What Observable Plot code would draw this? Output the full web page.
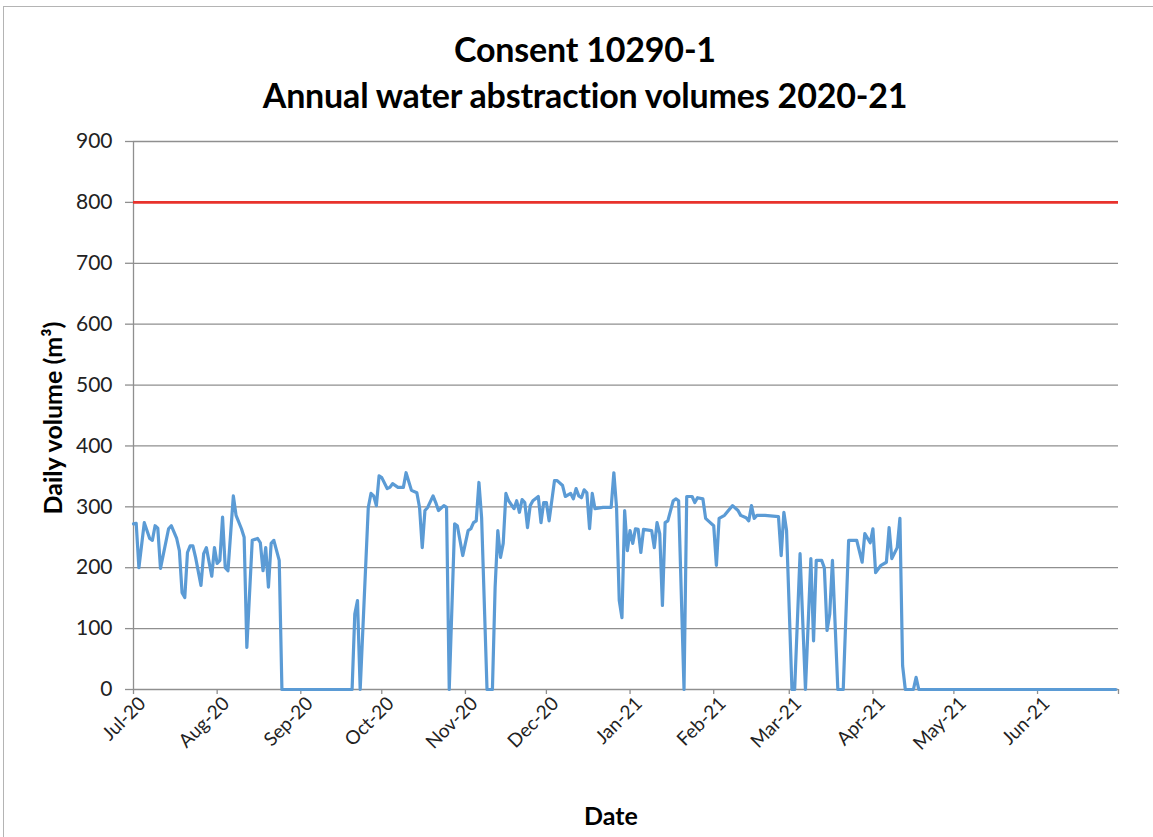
<!DOCTYPE html>
<html><head><meta charset="utf-8">
<script src="https://cdn.jsdelivr.net/npm/d3@7"></script>
<script src="https://cdn.jsdelivr.net/npm/@observablehq/plot@0.6"></script>
<style>
body{margin:0;background:#fff;}
#wrap{position:relative;width:1153px;height:837px;overflow:hidden;font-family:Lato,"Open Sans",sans-serif;background:#fff;}
#frame{position:absolute;left:3px;top:6px;width:1200px;height:900px;border-left:1.5px solid #b4b4b4;border-top:1.5px solid #b4b4b4;}
.t{position:absolute;left:0;width:1170px;text-align:center;font-weight:bold;font-size:34px;line-height:38px;color:#000;letter-spacing:-0.2px;}
#ylab{position:absolute;left:52px;top:418px;transform:translate(-50%,-50%) rotate(-90deg);font-weight:bold;font-size:25px;white-space:nowrap;color:#000;}
#xlab{position:absolute;left:611px;top:815px;transform:translate(-50%,-50%);font-weight:bold;font-size:25px;color:#000;}
#chart{position:absolute;left:0;top:0;}
</style></head>
<body>
<div id="wrap">
<div id="frame"></div>
<div id="chart"></div>
<div class="t" style="top:30px">Consent 10290-1</div>
<div class="t" style="top:76px">Annual water abstraction volumes 2020-21</div>
<div id="ylab">Daily volume (m³)</div>
<div id="xlab">Date</div>
</div>
<script>
const dates = [
"2020-07-01","2020-07-02","2020-07-03","2020-07-05","2020-07-07","2020-07-08","2020-07-09","2020-07-10","2020-07-11","2020-07-14",
"2020-07-15","2020-07-17","2020-07-18","2020-07-19","2020-07-20","2020-07-21","2020-07-22","2020-07-23","2020-07-24","2020-07-26",
"2020-07-27","2020-07-28","2020-07-30","2020-07-31","2020-08-01","2020-08-02","2020-08-03","2020-08-04","2020-08-05","2020-08-07",
"2020-08-08","2020-08-10","2020-08-11","2020-08-12","2020-08-14","2020-08-16","2020-08-17","2020-08-18","2020-08-19","2020-08-20",
"2020-08-21","2020-08-22","2020-08-24","2020-08-25",
"2020-09-20","2020-09-21","2020-09-22","2020-09-23","2020-09-26","2020-09-27","2020-09-28","2020-09-29","2020-09-30",
"2020-10-01","2020-10-03","2020-10-04","2020-10-05","2020-10-07","2020-10-09","2020-10-10","2020-10-12","2020-10-14","2020-10-15",
"2020-10-16","2020-10-17","2020-10-18","2020-10-20","2020-10-21","2020-10-22","2020-10-24","2020-10-25","2020-10-26","2020-10-28",
"2020-10-29","2020-10-31","2020-11-02","2020-11-03","2020-11-04","2020-11-05","2020-11-06","2020-11-07","2020-11-09","2020-11-11",
"2020-11-12","2020-11-13","2020-11-14","2020-11-15","2020-11-16","2020-11-17","2020-11-19","2020-11-20","2020-11-21","2020-11-22",
"2020-11-23","2020-11-24","2020-11-25","2020-11-26","2020-11-28","2020-11-29","2020-11-30","2020-12-01","2020-12-02","2020-12-04",
"2020-12-05","2020-12-07","2020-12-08","2020-12-10","2020-12-11","2020-12-12","2020-12-13","2020-12-14","2020-12-15","2020-12-16",
"2020-12-17","2020-12-18","2020-12-19","2020-12-22","2020-12-25","2020-12-26","2020-12-27","2020-12-28","2020-12-29","2020-12-30",
"2020-12-31","2021-01-01","2021-01-02","2021-01-03","2021-01-04","2021-01-05","2021-01-06","2021-01-09","2021-01-10","2021-01-11",
"2021-01-12","2021-01-13","2021-01-14","2021-01-15","2021-01-17","2021-01-18","2021-01-19","2021-01-21","2021-01-22","2021-01-24",
"2021-01-25","2021-01-26","2021-01-28","2021-01-29","2021-01-30","2021-02-01","2021-02-02","2021-02-03","2021-02-05","2021-02-07",
"2021-02-08","2021-02-10","2021-02-11","2021-02-13","2021-02-14","2021-02-15","2021-02-16","2021-02-17","2021-02-20","2021-02-25",
"2021-02-26","2021-02-27","2021-02-28","2021-03-02","2021-03-03","2021-03-05","2021-03-07","2021-03-09","2021-03-10","2021-03-11",
"2021-03-13","2021-03-14","2021-03-15","2021-03-16","2021-03-17","2021-03-19","2021-03-21","2021-03-23","2021-03-26","2021-03-28",
"2021-03-29","2021-03-31","2021-04-01","2021-04-02","2021-04-04","2021-04-06","2021-04-07","2021-04-08","2021-04-10","2021-04-11",
"2021-04-12","2021-04-13","2021-04-16","2021-04-17","2021-04-18","2021-06-30"
];
const volumes = [
272,273,200,274,248,245,269,265,199,264,
269,248,228,159,151,225,236,236,217,171,
223,233,186,233,207,212,283,200,195,318,
286,264,250,69,245,248,241,195,233,168,
240,245,212,0,
0,124,146,0,299,322,318,302,351,
348,330,332,338,332,332,356,327,323,299,
233,294,299,318,307,294,302,299,0,272,
269,220,261,264,274,277,340,282,0,0,
168,261,217,240,322,310,297,310,291,312,
307,266,302,310,317,274,307,307,277,343,
343,335,317,322,313,330,318,315,328,323,
264,322,297,299,299,356,299,146,118,294,
228,261,240,264,263,225,263,261,233,274,
256,138,274,277,310,313,310,0,317,317,
307,315,313,281,277,269,204,281,286,297,
302,294,286,282,277,302,281,286,286,284,
220,291,261,0,0,223,0,215,80,212,
212,200,97,124,212,0,0,245,245,209,
256,241,264,192,204,209,266,215,233,281,
39,0,0,20,0,0
];
const limit = [800];
const yTicks = [0,100,200,300,400,500,600,700,800,900];
const monthTicks = ["2020-07-01","2020-08-01","2020-09-01","2020-10-01","2020-11-01","2020-12-01",
"2021-01-01","2021-02-01","2021-03-01","2021-04-01","2021-05-01","2021-06-01","2021-07-01"];
const monthLabels = ["Jul-20","Aug-20","Sep-20","Oct-20","Nov-20","Dec-20","Jan-21","Feb-21","Mar-21","Apr-21","May-21","Jun-21",""];

const data = dates.map((d,i)=>({date:new Date(d), v:volumes[i]}));
const tickDates = monthTicks.map(d=>new Date(d));
const labelOf = new Map(tickDates.map((d,i)=>[+d, monthLabels[i]]));
const x0 = new Date("2020-07-01"), x1 = new Date("2021-07-01");
const grid = "#8f8f8f";

const chart = Plot.plot({
  width:1153, height:837,
  marginTop:141, marginBottom:148, marginLeft:133, marginRight:35,
  style:{fontFamily:"Lato, 'Open Sans', sans-serif", fontSize:"19px", color:"#222", background:"transparent"},
  x:{type:"utc", domain:[x0,x1]},
  y:{domain:[0,900]},
  marks:[
    Plot.ruleY(yTicks.filter(d=>d>0), {stroke:grid, strokeWidth:1.3}),
    Plot.axisY({ticks:yTicks, tickSize:8, tickPadding:13, stroke:grid, strokeWidth:1.3, fill:"#222", label:null, tickFormat:d=>String(d)}),
    Plot.axisX({ticks:tickDates, tickSize:5, stroke:grid, strokeWidth:1.3, tickFormat:()=>"", label:null}),
    Plot.axisX({ticks:tickDates, tickSize:0, tickFormat:d=>labelOf.get(+d), tickRotate:-45, tickPadding:6, dx:9, dy:5, fill:"#222", label:null}),
    Plot.ruleY([0], {stroke:grid, strokeWidth:1.3}),
    Plot.ruleX([x0], {stroke:grid, strokeWidth:1.3}),
    Plot.ruleY(limit, {stroke:"#e8322c", strokeWidth:2.6}),
    Plot.line(data, {x:"date", y:"v", stroke:"#5b9bd5", strokeWidth:3.2, strokeLinejoin:"round"})
  ]
});
d3.select(chart).selectAll("text").each(function(){
  const t = this.textContent;
  if (monthLabels.includes(t) && t) this.style.fontSize = "19px";
  else if (/^\d+$/.test(t)) this.style.fontSize = "21px";
});
document.getElementById("chart").appendChild(chart);
</script>
</body></html>
